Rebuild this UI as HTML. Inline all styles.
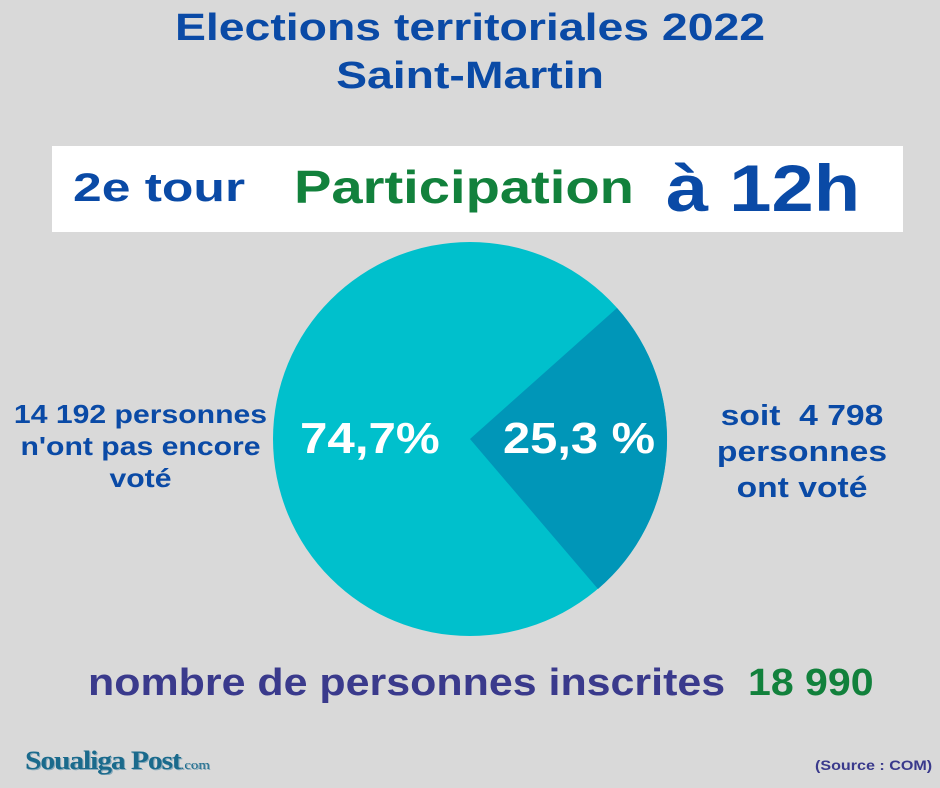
<!DOCTYPE html>
<html><head><meta charset="utf-8"><style>
body{margin:0;width:940px;height:788px;background:#d9d9d9;font-family:"Liberation Sans","DejaVu Sans",sans-serif;overflow:hidden;position:relative}
.t{position:absolute;font-weight:bold;white-space:nowrap;transform-origin:left center}
.c{transform-origin:center center}
</style></head><body>
<div class="t c" style="left:0;width:940px;top:4px;text-align:center;color:#0a4aa6;font-size:38px;line-height:48px;transform:scaleX(1.22)">Elections territoriales 2022<br>Saint-Martin</div>
<div style="position:absolute;left:52px;top:146px;width:851px;height:86px;background:#fff"></div>
<div class="t" style="left:73px;top:166px;color:#0a4aa6;font-size:40px;transform:scaleX(1.29)">2e tour</div>
<div class="t" style="left:294px;top:160px;color:#12813c;font-size:46px;transform:scaleX(1.22)">Participation</div>
<div class="t" style="left:666px;top:150px;color:#0a4aa6;font-size:66px;transform:scaleX(1.15)">à 12h</div>
<svg style="position:absolute;left:0;top:0" width="940" height="788">
<circle cx="470" cy="439" r="197" fill="#00c0cc"/>
<path d="M470 439 L617 308 A197 197 0 0 1 598 589 Z" fill="#0096b8"/>
</svg>
<div class="t" style="left:300px;top:414px;color:#fff;font-size:44px;transform:scaleX(1.12)">74,7%</div>
<div class="t" style="left:503px;top:414px;color:#fff;font-size:44px;transform:scaleX(1.11)">25,3 %</div>
<div class="t c" style="left:0;width:281px;top:398px;text-align:center;color:#0a4aa6;font-size:26px;line-height:32px;transform:scaleX(1.16)">14 192 personnes<br>n'ont pas encore<br>voté</div>
<div class="t c" style="left:700px;width:204px;top:398px;text-align:center;color:#0a4aa6;font-size:29px;line-height:36px;transform:scaleX(1.16)">soit&nbsp; 4 798<br>personnes<br>ont voté</div>
<div class="t" style="left:88px;top:662px;color:#3a3a8c;font-size:38px;transform:scaleX(1.13)">nombre de personnes inscrites</div>
<div class="t" style="left:748px;top:662px;color:#12813c;font-size:38px;transform:scaleX(1.08)">18 990</div>
<div class="t" style="left:25px;top:746px;color:#1a6a8c;font-size:26px;font-family:'Liberation Serif',serif;letter-spacing:-1px;text-shadow:1px 1px 0 #8ab;transform:scaleX(1.14)">Soualiga Post<span style="font-size:13px;font-weight:normal;letter-spacing:0">.com</span></div>
<div class="t" style="left:815px;top:757px;color:#3a3a8c;font-size:14px;transform:scaleX(1.15)">(Source : COM)</div>
</body></html>
